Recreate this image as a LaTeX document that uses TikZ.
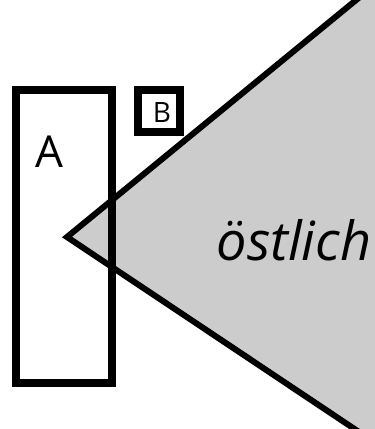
\documentclass[tikz,border=0pt]{standalone}
\usepackage{fontspec}
\setmainfont{Open Sans}
\begin{document}
\begin{tikzpicture}[x=1pt,y=-1pt,
  box/.style={draw=black,line width=8pt,inner sep=0pt},
  lbl/.style={inner sep=0pt,font=\fontsize{#1}{#1}\selectfont},
  edge/.style={draw=black,line width=6pt,line join=miter}]
\useasboundingbox (0,0) rectangle (375,429);
\clip (0,0) rectangle (375,429);
\coordinate (apex) at (67,237);
\coordinate (up) at (392.5,-29.8);
\coordinate (low) at (398,458);
\fill[gray!40] (apex) -- (up) -- (500,-30) -- (500,460) -- (low) -- cycle;
\draw[edge] (up) -- (apex) -- (low);
\node[box,minimum width=96pt,minimum height=293pt] (A) at (63.5,236.5) {};
\node[box,minimum width=41.5pt,minimum height=42pt] (B) at (159.2,111) {};
\node[lbl=44] (la) at (49,152) {A};
\node[lbl=28] (lb) at (162,113) {B};
\node[lbl=54] (t) at (294,240) {\itshape östlich};
\end{tikzpicture}
\end{document}
